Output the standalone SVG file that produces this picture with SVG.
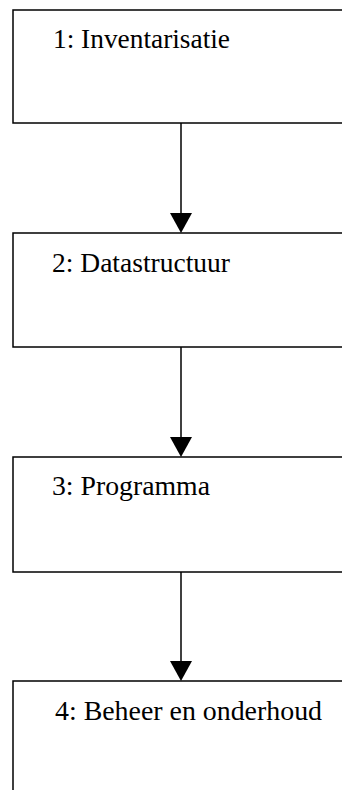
<svg xmlns="http://www.w3.org/2000/svg" width="342" height="790" viewBox="0 0 342 790">
<style>
.box{fill:#fff;stroke:#000;stroke-width:1.5}
.lbl{font-family:"Liberation Serif","Times New Roman",serif;font-size:27.5px;fill:#000}
.ln{stroke:#000;stroke-width:1.5;fill:none}
.hd{fill:#000;stroke:none}
</style>
<rect width="342" height="790" fill="#fff"/>
<g id="connectors">
<line class="ln" x1="181" y1="123" x2="181" y2="215"/>
<polygon class="hd" points="170,213 192,213 181,233"/>
<line class="ln" x1="181" y1="347" x2="181" y2="439"/>
<polygon class="hd" points="170,437 192,437 181,457"/>
<line class="ln" x1="181" y1="572" x2="181" y2="663"/>
<polygon class="hd" points="170,661 192,661 181,681"/>
</g>
<g id="node1">
<rect class="box" x="13" y="10" width="340" height="113"/>
<text class="lbl" x="53" y="47.5" textLength="177" lengthAdjust="spacingAndGlyphs">1: Inventarisatie</text>
</g>
<g id="node2">
<rect class="box" x="13" y="233" width="340" height="114"/>
<text class="lbl" x="52" y="272" textLength="178" lengthAdjust="spacingAndGlyphs">2: Datastructuur</text>
</g>
<g id="node3">
<rect class="box" x="13" y="457" width="340" height="115"/>
<text class="lbl" x="52" y="495" textLength="158" lengthAdjust="spacingAndGlyphs">3: Programma</text>
</g>
<g id="node4">
<rect class="box" x="13" y="681" width="340" height="130"/>
<text class="lbl" x="55" y="720" textLength="267" lengthAdjust="spacingAndGlyphs">4: Beheer en onderhoud</text>
</g>
</svg>
